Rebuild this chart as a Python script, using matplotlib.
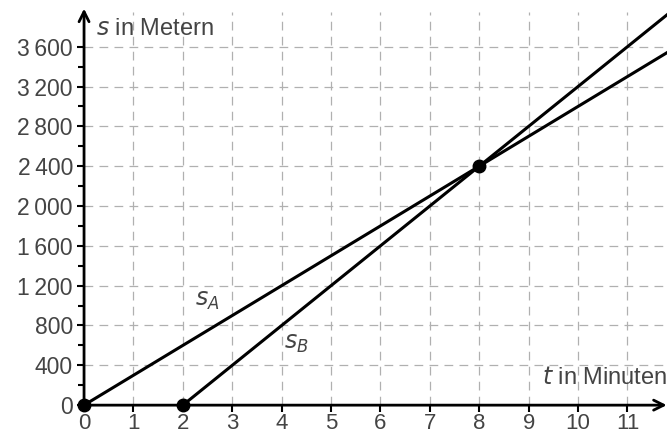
import matplotlib.pyplot as plt
import numpy as np

plt.rcParams['font.family'] = ['Liberation Sans', 'DejaVu Sans']

# data
t_A = [0, 8, 12]
s_A = [0, 2400, 3600]
t_B = [2, 8, 12]
s_B = [0, 2400, 4000]
points_t = [0, 2, 8]
points_s = [0, 0, 2400]

x_ticks = list(range(0, 12))
y_ticks = list(range(0, 3601, 400))
y_labels = ['0'] + [f'{v:,}'.replace(',', '\u2009') for v in y_ticks[1:]]

fig = plt.figure(figsize=(6.67, 4.38), dpi=100)
ax = fig.add_axes([0.126, 0.075, 0.874, 0.898])

x_max = 11.8
y_max = 3950
ax.set_xlim(0, x_max)
ax.set_ylim(0, y_max)

# grid
grid_kw = dict(color='#b0b0b0', linewidth=0.9, dashes=(7, 5), zorder=1)
for x in x_ticks[1:]:
    ax.plot([x, x], [0, y_max], **grid_kw)
for y in y_ticks[1:]:
    ax.plot([0, x_max], [y, y], **grid_kw)

# lines
ax.plot(t_A, s_A, color='black', linewidth=2.2, zorder=3)
ax.plot(t_B, s_B, color='black', linewidth=2.2, zorder=3)
ax.plot(points_t, points_s, 'o', color='black', markersize=9, zorder=5, clip_on=False)

# axes with arrows
for sp in ax.spines.values():
    sp.set_visible(False)
ax.annotate('', xy=(x_max + 0.05, 0), xytext=(0, 0),
            arrowprops=dict(arrowstyle='->', color='black', lw=2, mutation_scale=18),
            annotation_clip=False, zorder=4)
ax.annotate('', xy=(0, y_max + 60), xytext=(0, 0),
            arrowprops=dict(arrowstyle='->', color='black', lw=2, mutation_scale=18),
            annotation_clip=False, zorder=4)

ax.set_xticks(x_ticks)
ax.set_xticklabels([str(v) for v in x_ticks])
ax.set_yticks(y_ticks)
ax.set_yticklabels(y_labels)
ax.set_yticks(list(range(200, 3800, 400)), minor=True)
ax.tick_params(axis='both', which='major', direction='out', length=5, width=1.5,
               labelsize=16.5, labelcolor='#444444', pad=3)
ax.tick_params(axis='x', which='major', labelsize=16, pad=1)
ax.tick_params(axis='y', which='minor', direction='out', length=4, width=1.5)

ax.text(0.25, 3780, r'$\it{s}$ in Metern', fontsize=17, color='#444444', va='center')
ax.text(x_max, 270, r'$\it{t}$ in Minuten', fontsize=17, color='#444444', ha='right', va='center')
ax.text(2.5, 1050, r'$s_A$', fontsize=17, color='#444444', ha='center', va='center')
ax.text(4.3, 620, r'$s_B$', fontsize=17, color='#444444', ha='center', va='center')

fig.savefig('out.png', dpi=100)
